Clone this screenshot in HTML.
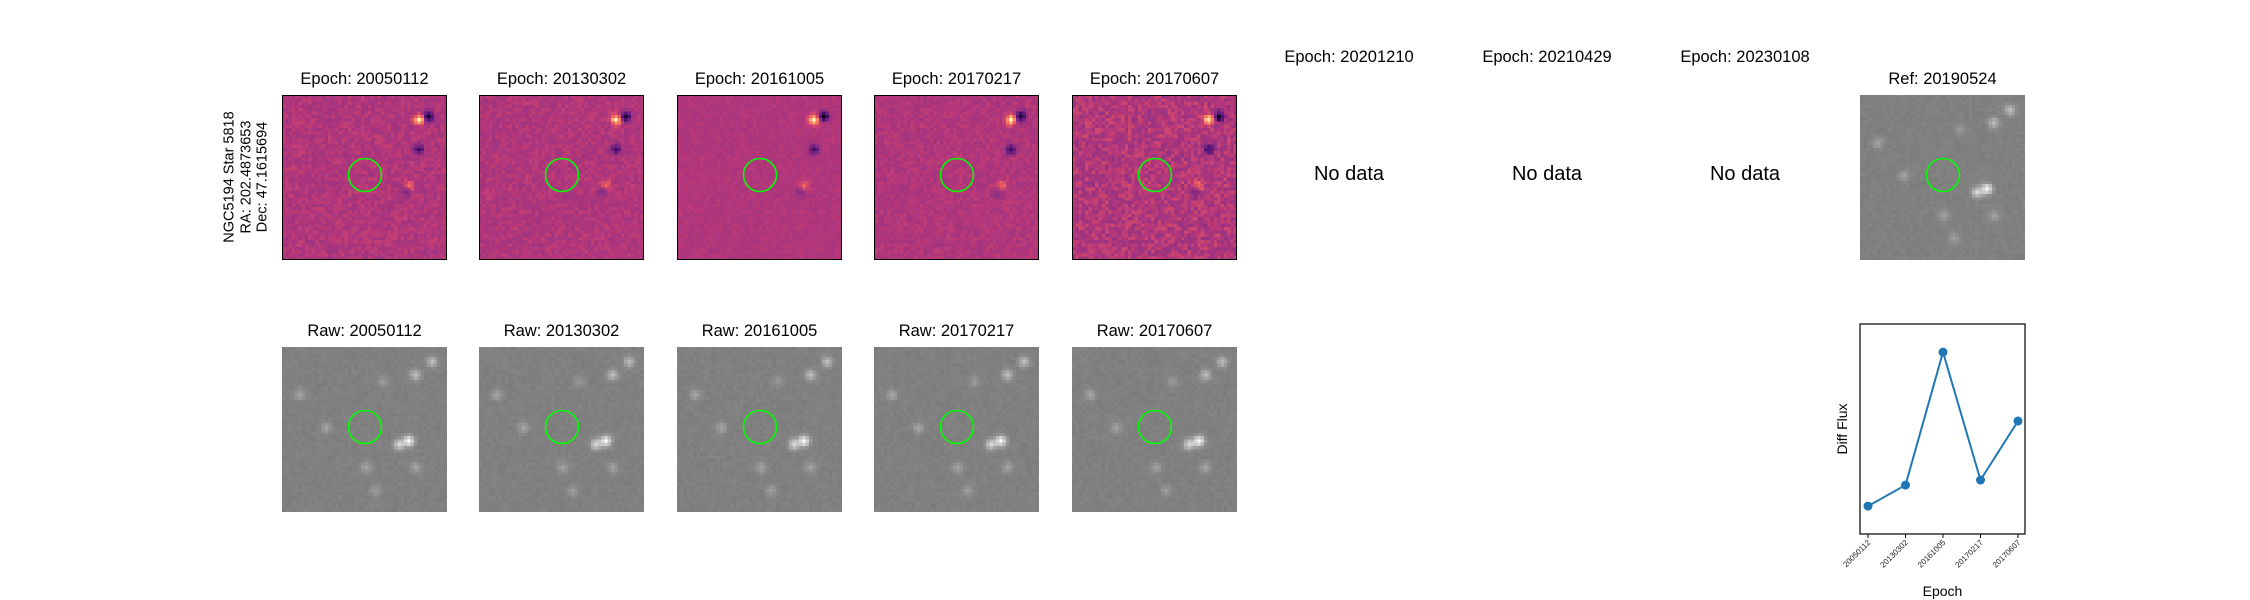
<!DOCTYPE html>
<html><head><meta charset="utf-8"><style>
body{margin:0;background:#fff;font-family:"Liberation Sans","DejaVu Sans",sans-serif;}
#root{position:relative;width:2250px;height:600px;overflow:hidden;background:#fff}
.t{position:absolute;font-size:16.5px;color:#000;text-align:center;width:240px;white-space:nowrap}
canvas{position:absolute;z-index:1}
.frame{position:absolute;border:1.5px solid #000;box-sizing:border-box;z-index:2}
.nd{position:absolute;font-size:20px;width:200px;text-align:center}
#chart{z-index:5}
</style></head><body>
<div id="root">
<div style="position:absolute;left:246px;top:177px;transform:translate(-50%,-50%) rotate(-90deg);font-size:14.5px;line-height:16.5px;text-align:center;white-space:nowrap">NGC5194 Star 5818<br>RA: 202.4873653<br>Dec: 47.1615694</div>
<svg id="chart" style="position:absolute;left:0;top:0" width="2250" height="600"></svg>
</div>
<script>
const categories=["20050112","20130302","20161005","20170217","20170607"];
const fluxValues=[0,1,7.33,1.24,4.05];
const yDomain=[-1.33,8.67];

const root=document.getElementById('root');
function rng(seed){let s=seed;return()=>{s=(s*1103515245+12345)%2147483648;return s/2147483648;};}
function magma(t){t=Math.max(0,Math.min(1,t));
 const st=[[0,[0,0,4]],[0.25,[80,18,123]],[0.45,[150,50,130]],[0.55,[183,55,121]],[0.7,[241,96,93]],[0.85,[254,170,116]],[1,[252,253,191]]];
 for(let i=1;i<st.length;i++){if(t<=st[i][0]){const a=st[i-1],b=st[i],f=(t-a[0])/(b[0]-a[0]);return a[1].map((v,k)=>Math.round(v+(b[1][k]-v)*f));}}return st[6][1];}
const colsX=[282,479,677,874,1072];
const noiseAmp=[0.11,0.10,0.06,0.09,0.17];
const diffSpots=[[44,6,-1],[41,7,1],[41,16,-0.7],[38,27,0.4],[37,29,-0.3]];
const rawSpots=[[38,28,1],[35,29,0.7],[45,4,0.5],[40,8,0.5],[13,24,0.3],[25,36,0.3],[5,14,0.3],[40,36,0.3],[28,43,0.25],[30,10,0.2]];
function addCanvas(x,y,kind,seed,amp,name){
 const c=document.createElement('canvas');c.width=50;c.height=50;
 c.style.left=x+'px';c.style.top=y+'px';c.style.width='165px';c.style.height='165px';c.style.imageRendering='pixelated';
 
 
 const ctx=c.getContext('2d');const im=ctx.createImageData(50,50);const r=rng(seed);
 for(let j=0;j<50;j++)for(let i=0;i<50;i++){
  let v;const idx=(j*50+i)*4;
  if(kind==='diff'){v=0.53+(r()-0.5)*amp;
   for(const s of diffSpots){const d=(i-s[0])**2+(j-s[1])**2;v+=s[2]*0.48*Math.exp(-d/2.2);}
   const col=magma(v);im.data[idx]=col[0];im.data[idx+1]=col[1];im.data[idx+2]=col[2];}
  else{v=128+(r()-0.5)*8;
   for(const s of rawSpots){const d=(i-s[0])**2+(j-s[1])**2;v+=s[2]*120*Math.exp(-d/2.5);}
   v=Math.min(255,v);im.data[idx]=im.data[idx+1]=im.data[idx+2]=v;}
  im.data[idx+3]=255;}
 ctx.putImageData(im,0,0);root.appendChild(c);}
function addTitle(cx,y,txt,name){const d=document.createElement('div');d.className='t';d.style.left=(cx-120)+'px';d.style.top=y+'px';d.textContent=txt;
 
 root.appendChild(d);}
const circLayer=[];
function addCircle(cx,cy,name){const s=document.createElementNS('http://www.w3.org/2000/svg','circle');s.setAttribute('cx',cx);s.setAttribute('cy',cy);s.setAttribute('r',16.5);s.setAttribute('fill','none');s.setAttribute('stroke','#00ff00');s.setAttribute('stroke-width','1.6');
 
 circLayer.push(s);}
categories.forEach((e,k)=>{const x=colsX[k];
 addTitle(x+82.5,70,'Epoch: '+e,'diff-title-'+e);
 addCanvas(x,95,'diff',100+k*7,noiseAmp[k],'diff-image-'+e);
 const f=document.createElement('div');f.className='frame';f.style.left=x+'px';f.style.top='95px';f.style.width='165px';f.style.height='165px';
 
 root.appendChild(f);
 addTitle(x+82.5,322,'Raw: '+e,'raw-title-'+e);
 addCanvas(x,347,'raw',300+k*11,0,'raw-image-'+e);
 addCircle(x+83,175,'aperture-diff-'+e);addCircle(x+83,427,'aperture-raw-'+e);});
[['20201210',1349],['20210429',1547],['20230108',1745]].forEach(([e,cx])=>{
 addTitle(cx,48,'Epoch: '+e,'empty-title-'+e);
 const d=document.createElement('div');d.className='nd';d.style.left=(cx-100)+'px';d.style.top='163px';d.textContent='No data';
 
 root.appendChild(d);});
addTitle(1942.5,70,'Ref: 20190524','ref-title');
addCanvas(1860,95,'raw',777,0,'ref-image');
addCircle(1943,175,'aperture-ref');

const svg=document.getElementById('chart');const NS='http://www.w3.org/2000/svg';
const L=1860,R=2025,T=324,B=534;
const xS=i=>1868+i*(2018-1868)/(categories.length-1);
const yS=v=>B-(v-yDomain[0])/(yDomain[1]-yDomain[0])*(B-T);
function el(tag,attrs,name,txt){const e=document.createElementNS(NS,tag);for(const k in attrs)e.setAttribute(k,attrs[k]);if(txt)e.textContent=txt;
 
 svg.appendChild(e);return e;}
circLayer.forEach(c=>svg.appendChild(c));
el('rect',{x:L,y:T,width:R-L,height:B-T,fill:'none',stroke:'#000','stroke-width':1.2},'chart-frame');
categories.forEach((c,i)=>{const x=xS(i);
 el('line',{x1:x,x2:x,y1:B,y2:B+4,stroke:'#000','stroke-width':1},'x-tick-'+c);
 el('text',{x:x+3,y:B+9,'font-size':8,fill:'#222','text-anchor':'end','font-family':'Liberation Sans, sans-serif',transform:`rotate(-45 ${x+3} ${B+9})`},'x-tick-label-'+c,c);});
el('polyline',{points:fluxValues.map((v,i)=>xS(i)+','+yS(v)).join(' '),fill:'none',stroke:'#1f77b4','stroke-width':2},'flux-line');
fluxValues.forEach((v,i)=>el('circle',{cx:xS(i),cy:yS(v),r:4.5,fill:'#1f77b4'},'flux-point-'+categories[i]));
el('text',{x:1942.5,y:596,'font-size':14,'text-anchor':'middle','font-family':'Liberation Sans, sans-serif'},'x-axis-title','Epoch');
el('text',{x:1847,y:429,'font-size':14,'text-anchor':'middle','font-family':'Liberation Sans, sans-serif',transform:'rotate(-90 1847 429)'},'y-axis-title','Diff Flux');
</script>
</body></html>
